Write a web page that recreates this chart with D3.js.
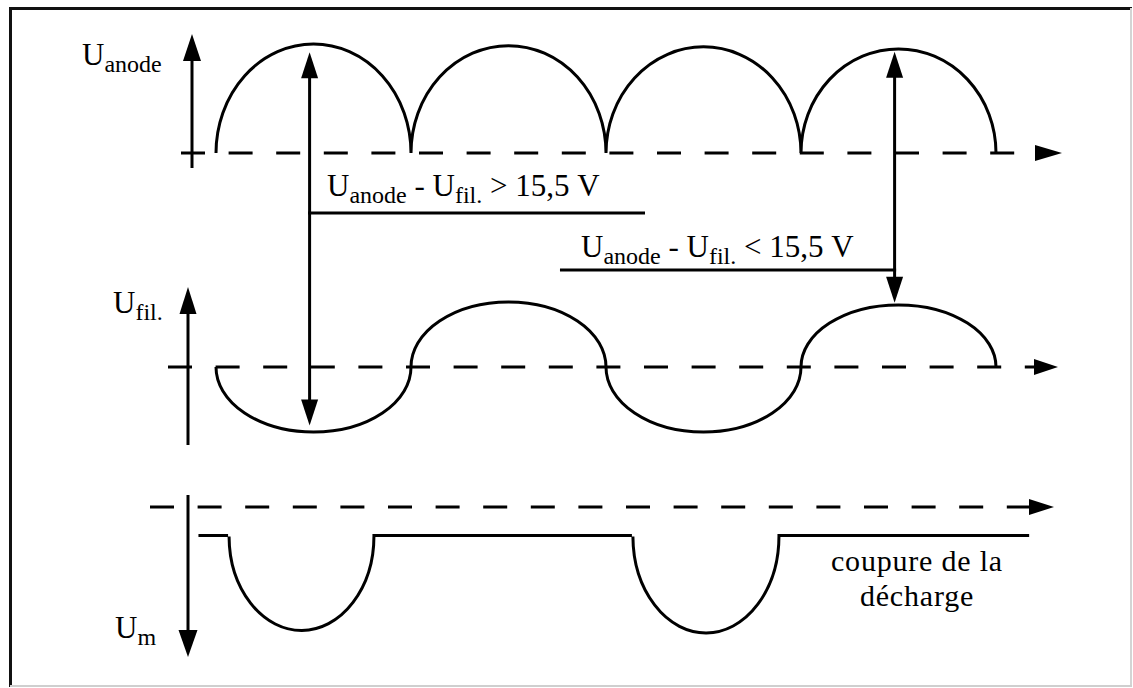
<!DOCTYPE html>
<html><head><meta charset="utf-8">
<script src="https://cdn.jsdelivr.net/npm/d3@7"></script>
<style>html,body{margin:0;padding:0;background:#fff;} svg{display:block}</style>
</head><body>
<svg id="chart" width="1133" height="688"></svg>
<script>
// ---------------- data (time in half-periods of the mains voltage) ----------------
const halfPeriods   = [0, 1, 2, 3, 4];
const anodePeaks    = [1.0, 0.985, 0.975, 0.955];   // rectified U_anode, one arch per half-period
const filamentPeaks = [-1.0, 1.0, -1.0, 0.955];     // U_fil., alternating half-waves
const umLevel       = -0.23;                         // U_m plateau (discharge cut off)
const umSpan        = [-0.09, 4.17];
const umDips        = [[0.067, 0.81, -1.0], [2.138, 2.887, -1.02]]; // [t start, t end, depth]
const diffArrows    = [                              // U_anode - U_fil. double arrows
  {t: 0.48, anode: 0.925, fil: -0.9},
  {t: 3.48, anode: 0.93,  fil: 0.99}
];
const axisLabels = [
  {main: "U", sub: "anode"},
  {main: "U", sub: "fil."},
  {main: "U", sub: "m"}
];
const conditionTexts = [
  [["U",0],["anode",1],["\u00A0-\u00A0U",0],["fil.",1],["\u00A0>\u00A015,5\u00A0V",0]],
  [["U",0],["anode",1],["\u00A0-\u00A0U",0],["fil.",1],["\u00A0<\u00A015,5\u00A0V",0]]
];
const noteLines = ["coupure de la", "décharge"];

// ---------------- layout ----------------
const svg = d3.select("#chart");
const W = 1133, H = 688;
const SW = 3;
const FONT = "'Liberation Serif','Times New Roman',Times,serif";

const x  = d3.scaleLinear().domain([0, 4]).range([216, 996]);
const yA = d3.scaleLinear().domain([0, 1]).range([153, 44]);
const yF = d3.scaleLinear().domain([-1, 1]).range([432, 302]);
const yM = d3.scaleLinear().domain([-1, 0]).range([631, 507]);

// frame
svg.append("rect").attr("width", W).attr("height", H).attr("fill", "#fff");
svg.append("line").attr("x1", 9).attr("x2", 1132).attr("y1", 8.5).attr("y2", 8.5).attr("stroke", "#111").attr("stroke-width", 3);
svg.append("line").attr("x1", 10.5).attr("x2", 10.5).attr("y1", 7).attr("y2", 687).attr("stroke", "#111").attr("stroke-width", 3);
svg.append("line").attr("x1", 1131).attr("x2", 1131).attr("y1", 8).attr("y2", 687).attr("stroke", "#d4d4d4").attr("stroke-width", 2);
svg.append("line").attr("x1", 10).attr("x2", 1132).attr("y1", 686).attr("y2", 686).attr("stroke", "#cfcfcf").attr("stroke-width", 2);

const g = svg.append("g").attr("stroke", "#000").attr("stroke-width", SW).attr("fill", "none");

function head(tx, ty, dir, len, hw) {
  let pts;
  if (dir === "up")    pts = [[tx, ty], [tx - hw, ty + len], [tx + hw, ty + len]];
  if (dir === "down")  pts = [[tx, ty], [tx - hw, ty - len], [tx + hw, ty - len]];
  if (dir === "right") pts = [[tx, ty], [tx - len, ty - hw], [tx - len, ty + hw]];
  svg.append("polygon").attr("points", pts.map(p => p.join(",")).join(" ")).attr("fill", "#000");
}
function vline(xx, y1, y2) {
  g.append("line").attr("x1", xx).attr("x2", xx).attr("y1", y1).attr("y2", y2);
}
function dashed(x1, x2, yy, gap) {
  g.append("line").attr("x1", x1).attr("x2", x2).attr("y1", yy).attr("y2", yy)
    .attr("stroke-dasharray", "24 " + gap).attr("stroke-linecap", "butt");
}

// ---- time axes (dashed baselines with arrow) ----
dashed(181, 1035, yA(0), 23.6); head(1062, yA(0), "right", 27, 8);
dashed(168, 1040, yF(0), 23.6); head(1058, yF(0), "right", 24, 8);
dashed(150, 1030, yM(0), 23.6); head(1054, yM(0), "right", 25, 8);

// ---- value axes ----
vline(192, 168, 56);  head(192, 34, "up", 27, 9);
vline(188, 445, 310); head(188, 287, "up", 27, 8.5);
vline(188, 495, 633); head(188, 657, "down", 27, 9.5);

// ---- curves ----
function archPath(ts, peaks, yScale) {
  let d = `M${x(ts[0])},${yScale(0)}`;
  peaks.forEach((p, i) => {
    const x0 = x(ts[i]), x1 = x(ts[i + 1]);
    const rx = (x1 - x0) / 2, ry = Math.abs(yScale(p) - yScale(0));
    const sweep = yScale(p) < yScale(0) ? 1 : 0;
    d += ` A${rx},${ry} 0 0 ${sweep} ${x1},${yScale(0)}`;
  });
  return d;
}
g.append("path").attr("d", archPath(halfPeriods, anodePeaks, yA));
g.append("path").attr("d", archPath(halfPeriods, filamentPeaks, yF));

// U_m
(function () {
  const yl = yM(umLevel);
  let d = `M${x(umSpan[0])},${yl}`;
  umDips.forEach(([t0, t1, depth]) => {
    const x0 = x(t0), x1 = x(t1);
    d += ` H${x0 - 1} M${x0},${yl + 1} A${(x1 - x0) / 2},${yM(depth) - yl - 1} 0 0 0 ${x1},${yl}`;
  });
  d += ` H${x(umSpan[1])}`;
  g.append("path").attr("d", d).attr("stroke-linejoin", "miter");
})();

// ---- double arrows U_anode - U_fil. ----
diffArrows.forEach(a => {
  const xx = x(a.t), top = yA(a.anode), bot = yF(a.fil);
  vline(xx, top + 20, bot - 20);
  head(xx, top, "up", 26, 8.5);
  head(xx, bot, "down", 26, 8.5);
});
// connector lines for the condition labels
g.append("line").attr("x1", x(diffArrows[0].t) - 1.5).attr("x2", x(2.2)).attr("y1", 213).attr("y2", 213);
g.append("line").attr("x1", x(1.764)).attr("x2", x(diffArrows[1].t) + 1.5).attr("y1", 270).attr("y2", 270);

// ---- text ----
function subText(xx, yy, parts, big, small, shift) {
  const t = svg.append("text").attr("x", xx).attr("y", yy)
    .attr("font-family", FONT).attr("fill", "#000");
  let prev = 0;
  parts.forEach(([s, isSub]) => {
    const off = isSub ? shift : 0;
    t.append("tspan").attr("dy", off - prev).attr("font-size", isSub ? small : big).text(s);
    prev = off;
  });
  return t;
}
const labelPos = [[82, 65], [113, 313], [115, 638]];
axisLabels.forEach((l, i) => {
  subText(labelPos[i][0], labelPos[i][1], [[l.main, 0], [l.sub, 1]], 31, 24, 7);
});
subText(327, 196, conditionTexts[0], 31, 24, 7);
subText(581, 257, conditionTexts[1], 31, 24, 7);

noteLines.forEach((s, i) => {
  svg.append("text").attr("x", 917).attr("y", 571 + i * 35)
    .attr("text-anchor", "middle").attr("font-family", FONT).attr("font-size", 30)
    .attr("letter-spacing", 0.8).attr("fill", "#000").text(s);
});
</script>
</body></html>
